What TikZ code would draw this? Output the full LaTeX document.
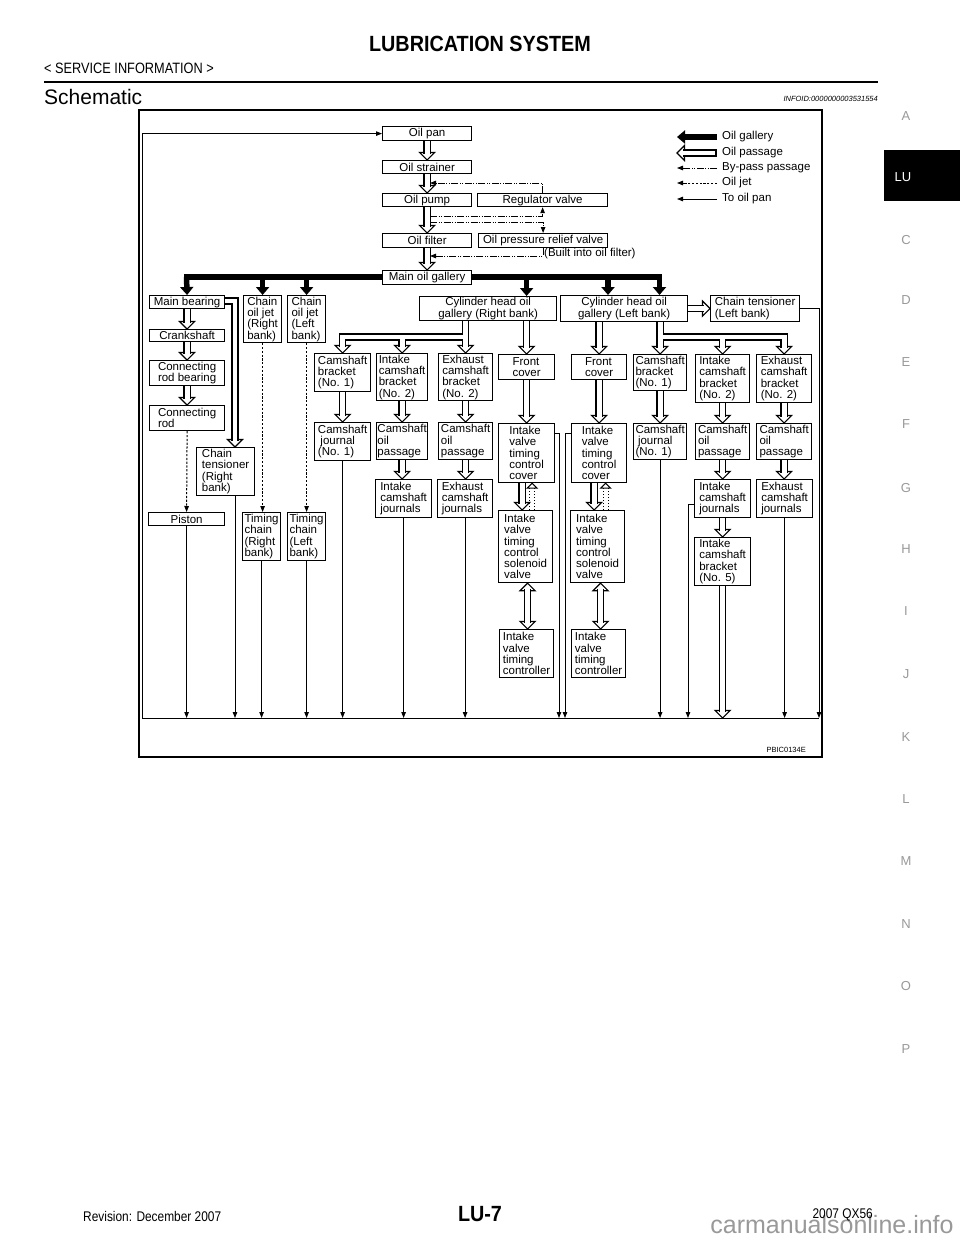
\documentclass[tikz,border=0pt]{standalone}
\usepackage{fontspec}
\setmainfont{Liberation Sans}
\usepackage{graphicx}
\usetikzlibrary{arrows.meta,calc}
\pgfdeclarelayer{bg}
\pgfdeclarelayer{paper}
\pgfsetlayers{paper,bg,main}
\newcommand\bxfont{\fontsize{11.5}{11.3}\selectfont}
\newcommand\Bx[7][left]{\node[box,align=#1,minimum width={#5-#3},minimum height={#6-#4}] (#2) at (#3,#4) {#7};}
\newcommand\HolD[2]{\pic at (#2) {hh};\draw[pipe] (#1) -- ($(#2)+(0,-6)$);}
\newcommand\HolB[2]{\pic[rotate=180] at (#1) {hh};\pic at (#2) {hh};\draw[pipe] ($(#1)+(0,6)$) -- ($(#2)+(0,-6)$);}
\newcommand\DotU[2]{\pic[rotate=180] at (#2) {hs};\draw[dotted,line width=1pt] ($(#1)+(-2.5,0)$) -- ($(#2)+(-2.5,4.5)$) ($(#1)+(2.5,0)$) -- ($(#2)+(2.5,4.5)$);}
\begin{document}
\begin{tikzpicture}[x=1pt,y=-1pt,
  box/.style={draw,line width=1.2pt,fill=white,inner sep=0pt,font=\bxfont,anchor=north west},
  pipe/.style={draw=white,line width=4.8pt,line join=miter,preaction={draw=black,line width=7.4pt,line join=miter}},
  hh/.pic={\draw[line width=1.2pt,fill=white,line join=miter] (-7.5,-7.5) -- (0,0) -- (7.5,-7.5) -- cycle;},
  hs/.pic={\draw[line width=1pt,fill=white,line join=miter] (-5,-5) -- (0,0) -- (5,-5) -- cycle;},
  gal/.style={line width=5.5pt,-{Triangle[length=8pt,width=13pt]}},
  topan/.style={line width=1pt,-{Triangle[length=6pt,width=4.5pt]}},
  jet/.style={topan,dash pattern=on 2.2pt off 1.6pt},
  byp/.style={topan,dash pattern=on 7pt off 1.5pt on 1pt off 1.5pt on 1pt off 1.5pt},
  lbl/.style={font=\bxfont,inner sep=0pt},
  tab/.style={font=\fontsize{13}{13}\selectfont,text=black!40,inner sep=0pt},
]
\begin{pgfonlayer}{paper}
\fill[white] (0,0) rectangle (960,1242);
\end{pgfonlayer}
\useasboundingbox (0,0) rectangle (960,1242);

% ---------- page header ----------
\node[inner sep=0pt] (title) at (480,44) {\scalebox{0.9}[1]{\fontsize{22}{22}\selectfont\bfseries LUBRICATION SYSTEM}};
\node[inner sep=0pt,anchor=west] (svc) at (44,68) {\scalebox{0.85}[1]{\fontsize{15}{15}\selectfont <\ SERVICE INFORMATION\ >}};
\draw[line width=2pt] (44,82) -- (878,82);
\node[inner sep=0pt,anchor=west] (sch) at (44,97) {\fontsize{21}{21}\selectfont Schematic};
\node[inner sep=0pt,anchor=east] (info) at (878,99) {\fontsize{7.5}{7.5}\selectfont\itshape INFOID:0000000003531554};

% ---------- side tabs ----------
\node[tab] (tA) at (906,116) {A};
\fill[black] (884,150) rectangle (960,201);
\node[tab,text=white] (tLU) at (903,177) {LU};
\node[tab] (tC) at (906,240) {C};
\node[tab] (tD) at (906,300) {D};
\node[tab] (tE) at (906,362) {E};
\node[tab] (tF) at (906,424) {F};
\node[tab] (tG) at (906,488) {G};
\node[tab] (tH) at (906,549) {H};
\node[tab] (tI) at (906,611) {I};
\node[tab] (tJ) at (906,674) {J};
\node[tab] (tK) at (906,737) {K};
\node[tab] (tL) at (906,799) {L};
\node[tab] (tM) at (906,861) {M};
\node[tab] (tN) at (906,924) {N};
\node[tab] (tO) at (906,986) {O};
\node[tab] (tP) at (906,1049) {P};

% ---------- footer ----------
\node[inner sep=0pt,anchor=west] (rev) at (83,1216) {\scalebox{0.85}[1]{\fontsize{14}{14}\selectfont Revision: December 2007}};
\node[inner sep=0pt] (pg) at (480,1214) {\scalebox{0.9}[1]{\fontsize{22}{22}\selectfont\bfseries LU-7}};
\node[inner sep=0pt] (wm) at (832,1225) {\fontsize{25}{25}\selectfont\color{black!40}carmanualsonline.info};
\node[inner sep=0pt,anchor=east] (mdl) at (873,1215) {\scalebox{0.85}[1]{\fontsize{14}{14}\selectfont 2007 QX56}};

% ---------- frame ----------
\draw[line width=1.5pt] (139,110) rectangle (822,757);
\node[inner sep=0pt,anchor=east] (code) at (806,750) {\fontsize{7.5}{7.5}\selectfont PBIC0134E};

% ---------- boxes ----------
\Bx[center]{opan}{382}{126}{471}{140}{Oil pan}
\Bx[center]{strn}{382}{160}{471}{173}{Oil strainer}
\Bx[center]{pump}{382}{193}{471}{206}{Oil pump}
\Bx[center]{filt}{382}{233}{471}{247}{Oil filter}
\Bx[center]{mog}{382}{270}{471}{284}{Main oil gallery}
\Bx[center]{reg}{477}{193}{607}{206}{Regulator valve}
\Bx[center]{rel}{478}{233}{607}{247}{Oil pressure relief valve}

\Bx[center]{mb}{149}{295}{224}{308}{Main bearing}
\Bx[center]{crk}{149}{329}{224}{341}{Crankshaft}
\Bx[center]{crb}{149}{360}{224}{385}{Connecting\\rod bearing}
\Bx{crod}{149}{405}{224}{430}{Connecting\\rod}
\Bx{ctR}{196}{447}{254}{495}{Chain\\tensioner\\(Right\\bank)}
\Bx[center]{pis}{148}{512}{224}{525}{Piston}
\Bx{cjR}{243}{295}{281}{342}{Chain\\oil jet\\(Right\\bank)}
\Bx{cjL}{287}{295}{325}{342}{Chain\\oil jet\\(Left\\bank)}
\Bx{tcR}{242}{512}{280}{560}{Timing\\chain\\(Right\\bank)}
\Bx{tcL}{287}{512}{325}{560}{Timing\\chain\\(Left\\bank)}

\Bx[center]{crR}{419}{296}{556}{320}{Cylinder head oil\\gallery (Right bank)}
\Bx[center]{crL}{560}{295}{687}{321}{Cylinder head oil\\gallery (Left bank)}
\Bx{ctL}{710}{295}{799}{321}{Chain tensioner\\(Left bank)}

\Bx{cbR}{314}{353}{370}{391}{Camshaft\\bracket\\(No. 1)}
\Bx{ibR}{376}{353}{427}{400}{Intake\\camshaft\\bracket\\(No. 2)}
\Bx{ebR}{438}{353}{492}{400}{Exhaust\\camshaft\\bracket\\(No. 2)}
\Bx{fcR}{498}{354}{554}{379}{Front\\cover}
\Bx{jR}{314}{422}{370}{460}{Camshaft\\\hspace*{2.5pt}journal\\(No. 1)}
\Bx{opR1}{376}{422}{427}{459}{Camshaft\\oil\\passage}
\Bx{opR2}{438}{422}{492}{459}{Camshaft\\oil\\passage}
\Bx{ijR}{375}{479}{431}{517}{Intake\\camshaft\\journals}
\Bx{ejR}{437}{479}{492}{517}{Exhaust\\camshaft\\journals}
\Bx{cvR}{498}{423}{554}{482}{Intake\\valve\\timing\\control\\cover}
\Bx{solR}{498}{510}{552}{582}{Intake\\valve\\timing\\control\\solenoid\\valve}
\Bx{ctrR}{499}{629}{553}{677}{Intake\\valve\\timing\\controller}

\Bx{fcL}{571}{354}{626}{379}{Front\\cover}
\Bx{cvL}{571}{423}{626}{482}{Intake\\valve\\timing\\control\\cover}
\Bx{solL}{570}{510}{624}{582}{Intake\\valve\\timing\\control\\solenoid\\valve}
\Bx{ctrL}{571}{629}{625}{677}{Intake\\valve\\timing\\controller}
\Bx{cbL}{633}{354}{686}{390}{Camshaft\\bracket\\(No. 1)}
\Bx{ibL}{695}{354}{749}{402}{Intake\\camshaft\\bracket\\(No. 2)}
\Bx{ebL}{756}{354}{811}{402}{Exhaust\\camshaft\\bracket\\(No. 2)}
\Bx{jL}{633}{423}{686}{459}{Camshaft\\\hspace*{2.5pt}journal\\(No. 1)}
\Bx{opL1}{695}{423}{749}{459}{Camshaft\\oil\\passage}
\Bx{opL2}{756}{423}{811}{459}{Camshaft\\oil\\passage}
\Bx{ijL}{694}{479}{750}{517}{Intake\\camshaft\\journals}
\Bx{ejL}{756}{479}{812}{517}{Exhaust\\camshaft\\journals}
\Bx{b5}{694}{537}{750}{585}{Intake\\camshaft\\bracket\\(No. 5)}

\node[lbl,anchor=west] (blt) at (544,254) {(Built into oil filter)};

% ---------- legend ----------
\coordinate (la1) at (677,137); \coordinate (lb1) at (717,137);
\coordinate (la2) at (677,153); \coordinate (lb2) at (716,153);
\coordinate (la3) at (677,168); \coordinate (lb3) at (717,168);
\coordinate (la4) at (677,183); \coordinate (lb4) at (717,183);
\coordinate (la5) at (677,199); \coordinate (lb5) at (717,199);
\node[lbl,anchor=west] (lt1) at (722,137) {Oil gallery};
\node[lbl,anchor=west] (lt2) at (722,153) {Oil passage};
\node[lbl,anchor=west] (lt3) at (722,168) {By-pass passage};
\node[lbl,anchor=west] (lt4) at (722,183) {Oil jet};
\node[lbl,anchor=west] (lt5) at (722,199) {To oil pan};

% ---------- coordinates ----------
\coordinate (cL) at (142,718);
\coordinate (cR) at (819,718);
\coordinate (s1) at (430,183);
\coordinate (s2) at (430,216);
\coordinate (s3) at (430,222);
\coordinate (s4) at (430,256);
\coordinate (e1) at (235,301);
\coordinate (k1) at (559,433);
\coordinate (k2) at (565,433);
\coordinate (k3) at (688,504);
\coordinate (g0) at (186.5,277);
\coordinate (g1) at (659.5,277);
\coordinate (d4) at (608,277);
\coordinate (v1) at ([xshift=-4.5pt]cvR.south);
\coordinate (u1) at ([xshift=5.5pt]cvR.south);
\coordinate (v2) at ([xshift=-5pt]cvL.south);
\coordinate (u2) at ([xshift=6.5pt]cvL.south);
\coordinate (w1) at ([xshift=1pt]ctrR.north);
\coordinate (w2) at ([xshift=2pt]ctrL.north);
\coordinate (tR) at (crR.south -| ebR.north);
\coordinate (bR) at (465,337);
\coordinate (tL) at (crL.south -| cbL.north);
\coordinate (bL) at (659.5,337);

\begin{pgfonlayer}{bg}
% legend arrows
\draw[gal] (lb1) -- (la1);
\pic[rotate=-90] at (la2) {hh};
\draw[pipe] ($(la2)+(6,0)$) -- (lb2);
\draw[line width=1.2pt] ($(lb2)+(0,-3.7)$) -- ($(lb2)+(0,3.7)$);
\draw[byp] (lb3) -- (la3);
\draw[jet] (lb4) -- (la4);
\draw[topan] (lb5) -- (la5);

% main column
\HolD{opan.south}{strn.north}
\HolD{strn.south}{pump.north}
\HolD{pump.south}{filt.north}
\HolD{filt.south}{mog.north}

% by-pass passages
\draw[byp] (reg.north) |- (s1);
\draw[byp] (s2) -| (reg.south);
\draw[byp] (s3) -| (rel.north);
\draw[byp] (rel.south) |- (s4);

% oil gallery
\draw[line width=5.5pt,line cap=rect] (g0) -- (g1);
\draw[gal] (g0) -- (mb.north);
\draw[gal] (cjR.north |- g0) -- (cjR.north);
\draw[gal] (cjL.north |- g0) -- (cjL.north);
\draw[gal] (fcR.north |- g0) -- (fcR.north |- crR.north);
\draw[gal] (d4) -- (d4 |- crL.north);
\draw[gal] (g1) -- (g1 |- crL.north);

% crank side
\HolD{mb.south}{crk.north}
\HolD{crk.south}{crb.north}
\HolD{crb.south}{crod.north}
\pic at (e1 |- ctR.north) {hh};
\draw[pipe] (mb.east |- e1) -| ($(e1 |- ctR.north)+(0,-6)$);
\draw[jet] (crod.south) -- (pis.north);
\draw[jet] (cjR.south) -- (cjR.south |- tcR.north);
\draw[jet] (cjL.south) -- (cjL.south |- tcL.north);

% right bank
\HolD{fcR.north |- crR.south}{fcR.north}
\pic at (cbR.north) {hh};
\pic at (ibR.north) {hh};
\pic at (ebR.north) {hh};
\draw[pipe] (tR) -- ($(ebR.north)+(0,-6)$)
  ($(cbR.north)+(0,-6)$) |- (bR)
  (ibR.north |- bR) -- ($(ibR.north)+(0,-6)$);
\HolD{cbR.south}{cbR.south |- jR.north}
\HolD{ibR.south}{ibR.south |- opR1.north}
\HolD{opR1.south}{opR1.south |- ijR.north}
\HolD{ebR.south}{ebR.south |- opR2.north}
\HolD{opR2.south}{opR2.south |- ejR.north}
\HolD{fcR.south}{fcR.south |- cvR.north}
\HolD{v1}{v1 |- solR.north}
\DotU{u1 |- solR.north}{u1}
\HolB{w1 |- solR.south}{w1}

% left bank
\HolD{fcL.north |- crL.south}{fcL.north}
\HolD{fcL.south}{fcL.south |- cvL.north}
\HolD{v2}{v2 |- solL.north}
\DotU{u2 |- solL.north}{u2}
\HolB{w2 |- solL.south}{w2}
\pic[rotate=90] at (ctL.west) {hh};
\draw[pipe] (crL.east) -- ($(ctL.west)+(-6,0)$);
\pic at (cbL.north) {hh};
\pic at (ibL.north) {hh};
\pic at (ebL.north) {hh};
\draw[pipe] (tL) -- ($(cbL.north)+(0,-6)$)
  (bL) -| ($(ebL.north)+(0,-6)$)
  (ibL.north |- bL) -- ($(ibL.north)+(0,-6)$);
\HolD{cbL.south}{cbL.south |- jL.north}
\HolD{ibL.south}{ibL.south |- opL1.north}
\HolD{opL1.south}{opL1.south |- ijL.north}
\HolD{ijL.south}{ijL.south |- b5.north}
\HolD{b5.south}{b5.south |- cL}
\HolD{ebL.south}{ebL.south |- opL2.north}
\HolD{opL2.south}{opL2.south |- ejL.north}

% return to oil pan
\draw[topan] (cR) -- (cL) |- (opan.west);
\draw[topan] (pis.south) -- (pis.south |- cL);
\draw[topan] (ctR.south -| e1) -- (e1 |- cL);
\draw[topan] (tcR.south) -- (tcR.south |- cL);
\draw[topan] (tcL.south) -- (tcL.south |- cL);
\draw[topan] (jR.south) -- (jR.south |- cL);
\draw[topan] (ijR.south) -- (ijR.south |- cL);
\draw[topan] (ejR.south) -- (ejR.south |- cL);
\draw[topan] (cvR.east |- k1) -- (k1) -- (k1 |- cL);
\draw[topan] (cvL.west |- k2) -- (k2) -- (k2 |- cL);
\draw[topan] (jL.south) -- (jL.south |- cL);
\draw[topan] (ijL.west |- k3) -- (k3) -- (k3 |- cL);
\draw[topan] (ejL.south) -- (ejL.south |- cL);
\draw[topan] (ctL.east) -| (cR);
\end{pgfonlayer}
\end{tikzpicture}
\end{document}
